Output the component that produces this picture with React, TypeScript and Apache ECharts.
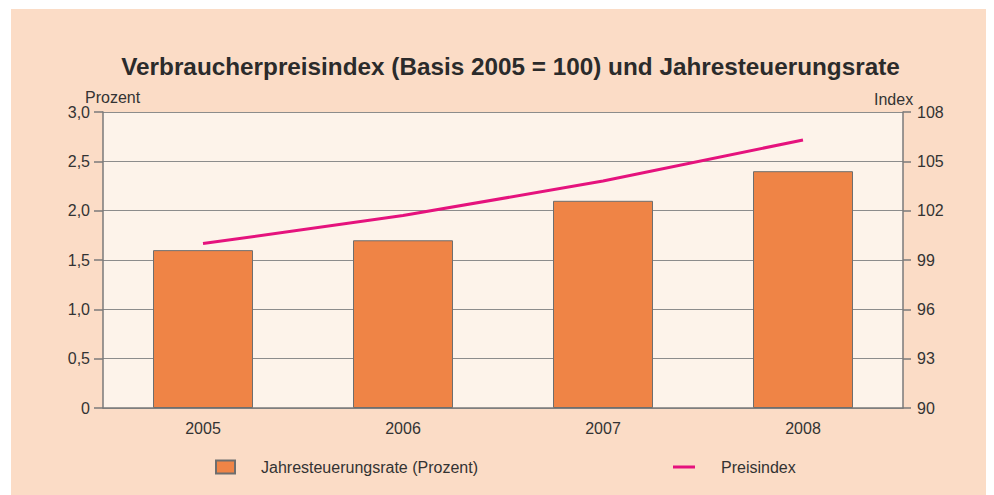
import React, { useEffect, useRef } from "react";
import * as echarts from "echarts";

const years = ["2005", "2006", "2007", "2008"];
const rateValues = [1.6, 1.7, 2.1, 2.4];
const indexValues = [100.0, 101.7, 103.8, 106.3];
const rateName = "Jahresteuerungsrate (Prozent)";
const indexName = "Preisindex";
const titleText = "Verbraucherpreisindex (Basis 2005 = 100) und Jahresteuerungsrate";

const FONT = "'Liberation Sans', Arial, Helvetica, sans-serif";
const TEXT = "#333333";
const AXIS = "#7a7a7a";

export default function App() {
  const ref = useRef<HTMLDivElement>(null);
  useEffect(() => {
    if (!ref.current) return;
    const chart = echarts.init(ref.current, undefined, { renderer: "svg" });
    chart.setOption({
      animation: false,
      backgroundColor: "#fbdcc6",
      textStyle: { fontFamily: FONT },
      title: {
        text: titleText,
        left: 494.5,
        top: 40,
        textAlign: "center",
        textStyle: { fontFamily: FONT, fontSize: 24.3, fontWeight: "bold", color: "#2b2b2b" },
      },
      graphic: [
        { type: "text", left: 74, top: 80, style: { text: "Prozent", font: `16px ${FONT}`, fill: TEXT } },
        { type: "text", left: 863, top: 82, style: { text: "Index", font: `16px ${FONT}`, fill: TEXT } },
      ],
      grid: {
        left: 92,
        right: 88,
        top: 103,
        bottom: 87,
        show: true,
        backgroundColor: "#fdf3ea",
        borderWidth: 0,
      },
      legend: [
        {
          data: [{ name: rateName, icon: "rect" }],
          left: 204,
          top: 450,
          padding: 0,
          itemWidth: 19,
          itemHeight: 13,
          textStyle: { fontFamily: FONT, fontSize: 16, color: TEXT, padding: [0, 0, 0, 21] },
        },
        {
          data: [{ name: indexName, icon: "rect" }],
          left: 662,
          top: 450,
          padding: 0,
          itemWidth: 22,
          itemHeight: 3,
          textStyle: { fontFamily: FONT, fontSize: 16, color: TEXT, padding: [0, 0, 0, 21] },
        },
      ],
      xAxis: {
        type: "category",
        data: years,
        axisTick: { show: false },
        axisLine: { lineStyle: { color: AXIS, width: 1.5 } },
        axisLabel: { margin: 12, fontSize: 16, color: TEXT, fontFamily: FONT },
      },
      yAxis: [
        {
          type: "value",
          min: 0,
          max: 3,
          interval: 0.5,
          axisLine: { show: true, lineStyle: { color: AXIS, width: 1.5 } },
          axisTick: { show: true, length: 9, lineStyle: { color: AXIS, width: 1.5 } },
          axisLabel: {
            margin: 13,
            fontSize: 16,
            color: TEXT,
            fontFamily: FONT,
            formatter: (v: number) => (v === 0 ? "0" : v.toFixed(1).replace(".", ",")),
          },
          splitLine: { show: true, lineStyle: { color: "#8c8c8c", width: 1.2 } },
        },
        {
          type: "value",
          min: 90,
          max: 108,
          interval: 3,
          position: "right",
          axisLine: { show: true, lineStyle: { color: AXIS, width: 1.5 } },
          axisTick: { show: true, length: 8, lineStyle: { color: AXIS, width: 1.5 } },
          axisLabel: { margin: 14, fontSize: 16, color: TEXT, fontFamily: FONT },
          splitLine: { show: false },
        },
      ],
      series: [
        {
          name: rateName,
          type: "bar",
          data: rateValues,
          barWidth: "50%",
          itemStyle: { color: "#ef8446", borderColor: "#6e6e6e", borderWidth: 1 },
        },
        {
          name: indexName,
          type: "line",
          yAxisIndex: 1,
          data: indexValues,
          showSymbol: false,
          symbol: "none",
          lineStyle: { color: "#e5127d", width: 3 },
          itemStyle: { color: "#e5127d" },
        },
      ],
    });
    return () => chart.dispose();
  }, []);
  return (
    <div style={{ paddingLeft: 3, paddingTop: 1 }}>
      <div ref={ref} style={{ width: 980, height: 486 }} />
    </div>
  );
}
